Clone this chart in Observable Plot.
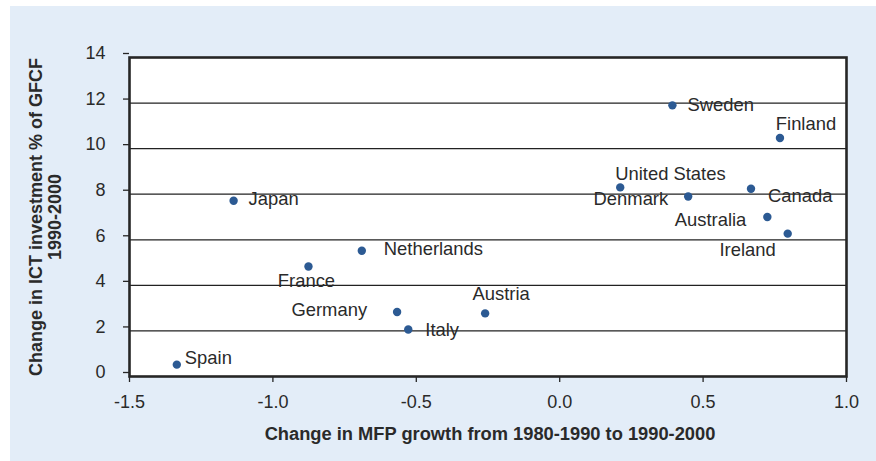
<!DOCTYPE html>
<html>
<head>
<meta charset="utf-8">
<script src="https://cdn.jsdelivr.net/npm/d3@7"></script>
<script src="https://cdn.jsdelivr.net/npm/@observablehq/plot@0.6"></script>
<style>
  html, body { margin: 0; padding: 0; background: #ffffff; }
  #wrap { padding-left: 10px; padding-top: 6px; }
  #wrap svg { display: block; }
</style>
</head>
<body>
<div id="wrap"></div>
<script>
// ---- Data ----
const countries = ["Spain", "Japan", "France", "Netherlands", "Germany", "Italy", "Austria",
  "United States", "Sweden", "Denmark", "Canada", "Australia", "Finland", "Ireland"];
const mfpChange = [-1.335, -1.137, -0.876, -0.69, -0.567, -0.528, -0.26,
  0.211, 0.393, 0.448, 0.667, 0.724, 0.768, 0.795];
const ictChange = [0.52, 7.71, 4.83, 5.52, 2.83, 2.06, 2.77,
  8.30, 11.9, 7.9, 8.24, 7.0, 10.47, 6.27];
const xTicks = [-1.5, -1.0, -0.5, 0.0, 0.5, 1.0];
const yTicks = [0, 2, 4, 6, 8, 10, 12, 14];
const xTitle = "Change in MFP growth from 1980-1990 to 1990-2000";
const yTitle = "Change in ICT investment % of GFCF\n1990-2000";

// ---- Label placement (layout only) ----
const labelPlacement = {
  "Spain": {dx: 8, dy: -7, anchor: "start"},
  "Japan": {dx: 15, dy: -2, anchor: "start"},
  "France": {dx: -2, dy: 15, anchor: "middle"},
  "Netherlands": {dx: 22, dy: -2, anchor: "start"},
  "Germany": {dx: -30, dy: -2, anchor: "end"},
  "Italy": {dx: 17, dy: 1, anchor: "start"},
  "Austria": {dx: 16, dy: -19, anchor: "middle"},
  "United States": {dx: -5, dy: -13, anchor: "start"},
  "Sweden": {dx: 15, dy: 0, anchor: "start"},
  "Denmark": {dx: -20, dy: 3, anchor: "end"},
  "Canada": {dx: 17, dy: 7, anchor: "start"},
  "Australia": {dx: -21, dy: 3, anchor: "end"},
  "Finland": {dx: 26, dy: -14, anchor: "middle"},
  "Ireland": {dx: -12, dy: 16, anchor: "end"}
};

const data = countries.map((c, i) => ({country: c, x: mfpChange[i], y: ictChange[i]}));

const font = "'Liberation Sans', Arial, sans-serif";
const ink = "#2a2a2a";

const labelMarks = data.map(d => {
  const p = labelPlacement[d.country];
  return Plot.text([d], {
    x: "x", y: "y", text: "country",
    dx: p.dx, dy: p.dy, textAnchor: p.anchor,
    fontSize: 18.4, fill: ink
  });
});

const chart = Plot.plot({
  width: 866,
  height: 455,
  marginLeft: 119,
  marginRight: 30,
  marginTop: 51,
  marginBottom: 85,
  style: {background: "#e3edf8", fontFamily: font, color: ink, overflow: "visible"},
  x: {domain: [-1.5, 1.0]},
  y: {domain: [0, 14]},
  marks: [
    Plot.frame({fill: "white"}),
    Plot.ruleY(yTicks.filter(t => t > 0 && t < 14), {stroke: "#222", strokeWidth: 1.3}),
    Plot.frame({stroke: "#262626", strokeWidth: 2.6}),
    Plot.axisY({ticks: yTicks, tickSize: 6, tickPadding: 18, dy: -4, fontSize: 18,
      tickFormat: d => String(d), label: null, stroke: "#262626", strokeWidth: 1.3}),
    Plot.axisX({ticks: xTicks, tickSize: 6, tickPadding: 13, fontSize: 18,
      tickFormat: d => d.toFixed(1), label: null, stroke: "#262626", strokeWidth: 1.3}),
    Plot.dot(data, {x: "x", y: "y", r: 4.2, fill: "#2c5a93", stroke: "none"}),
    ...labelMarks,
    Plot.text([xTitle], {frameAnchor: "bottom", text: d => d, dy: 63, dx: 2,
      fontSize: 18.3, fontWeight: "bold", fill: ink}),
    Plot.text([yTitle], {frameAnchor: "left", text: d => d, rotate: -90, dx: -101,
      lineAnchor: "top", lineHeight: 1.05, textAnchor: "middle",
      fontSize: 18, fontWeight: "bold", fill: ink})
  ]
});

document.getElementById("wrap").appendChild(chart);
</script>
</body>
</html>
